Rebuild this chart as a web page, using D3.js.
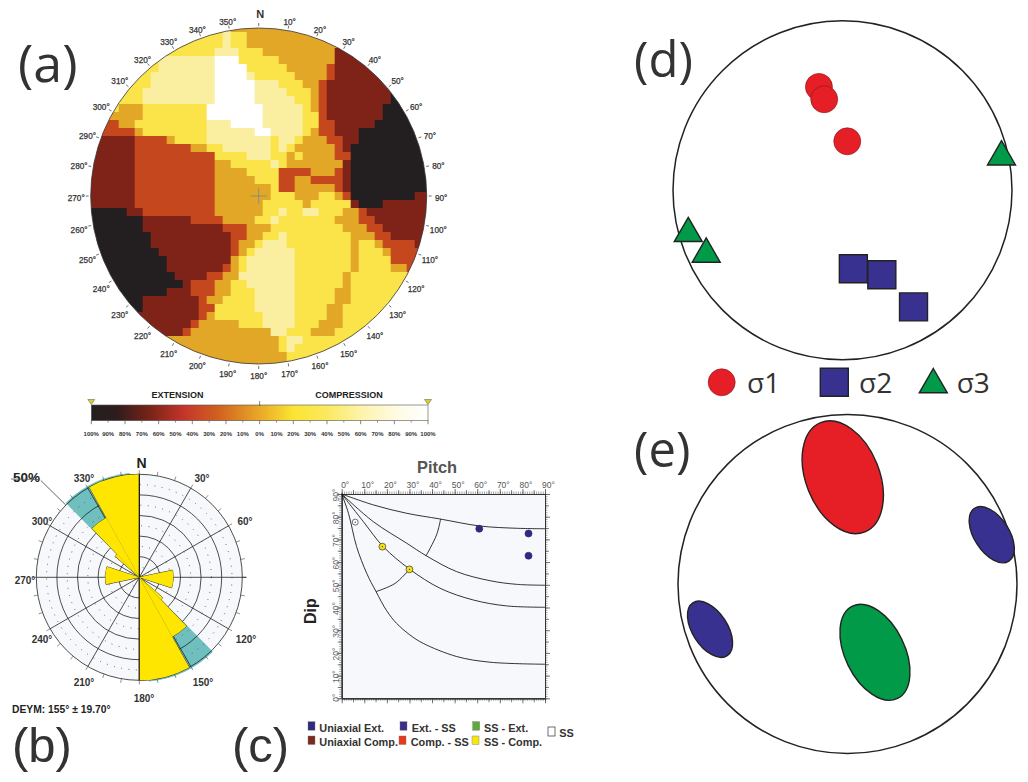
<!DOCTYPE html>
<html><head><meta charset="utf-8">
<script src="https://cdn.jsdelivr.net/npm/d3@7/dist/d3.min.js"></script>
<style>html,body{margin:0;padding:0;background:#fff}svg{display:block}text{font-family:"Liberation Sans",Arial,sans-serif}</style>
</head><body><svg id="c" width="1028" height="782"></svg>
<script>
// ---------- data ----------
// (a) strain-class raster: each row is a run list, letter + column where the run ends
const mapRows = [
"Y17 P18 A43","Y17 P18 Y20 A43","Y17 P18 Y20 A43","Y16 P19 Y22 A31 D43",
"Y9 P16 W19 Y24 A31 D43","Y9 P16 W20 Y25 A30 O31 D43","Y8 P16 W20 P21 Y26 A30 O31 D43",
"Y8 P16 W21 P24 Y27 A29 O30 D43","Y7 P16 W21 P25 Y28 A29 O30 D38 K43","Y7 P16 W21 P26 Y28 A29 O30 D38 K43",
"Y4 A7 Y15 W22 P27 Y28 A29 O30 D37 K43","A7 Y15 W22 P27 Y29 O30 D37 K43","O4 A6 Y15 P18 W22 P27 Y29 O31 D36 K43",
"O6 A7 Y15 P21 W23 P27 Y28 A29 O31 D34 K43","D6 O10 A11 Y15 P23 Y24 P26 Y27 A30 O32 D34 K43",
"D6 O13 A15 Y17 P23 Y24 P25 Y26 A31 O32 D33 K43","D6 O16 Y20 P23 Y25 A26 Y27 A31 O33 K43",
"D6 O16 A18 Y23 P24 Y25 A32 D33 K43","D6 O16 A20 Y24 O28 A31 O32 D33 K43","D6 O16 A21 Y24 O26 A28 O32 D33 K43",
"D6 O16 A23 Y24 O26 A31 O32 D33 K43","D6 O16 A23 Y26 A29 Y31 A32 O33 K41 D43","D6 O16 A22 Y27 A28 Y33 D34 K37 D43",
"K5 D7 O16 A22 Y24 P25 Y27 P29 Y32 A34 O35 D43","K7 D13 O17 A21 Y23 P24 Y31 A34 O36 D43","K7 D17 O20 A23 Y32 A35 O37 D43",
"K8 D18 O20 A22 Y24 P25 Y33 A36 O38 D43","K8 D18 O19 A21 Y22 P25 Y33 A34 Y36 A37 O41 D43",
"K9 D18 O19 A20 Y21 P26 Y33 A34 Y37 A38 O43","K10 D18 A19 Y20 P26 Y33 A34 Y38 O43",
"K10 D17 O18 A19 Y20 P26 Y33 A34 Y38 A40 O43","K11 D15 O17 A19 P26 Y32 A33 Y43","K12 D13 O16 A18 Y20 P26 Y32 A33 Y43",
"K10 D13 O16 A18 Y21 P26 Y31 A33 Y43","K7 D14 O15 A17 Y21 P26 Y31 A33 Y43","K7 D14 O16 Y21 P26 Y30 A32 Y43",
"D14 O15 A16 Y22 P26 Y30 A32 Y43","D13 O14 A19 Y22 P26 Y29 A32 Y43","D12 O13 A23 P25 Y28 A31 Y43",
"A24 Y25 P27 Y43","A24 Y25 P26 Y43","A25 Y43","A25 Y43"];
const classKeys = ["K","D","O","A","Y","P","W"];
const classColors = ["#231f20","#7f2318","#c4471d","#e3a728","#fbe44a","#faeea0","#ffffff"];
const barLabels = ["100%","90%","80%","70%","60%","50%","40%","30%","20%","10%","0%","10%","20%","30%","40%","50%","60%","70%","80%","90%","100%"];
const barStops = [-100,-85,-65,-45,-25,0,20,40,60,80,100];
const barColors = ["#231f20","#2e1c1c","#7a2318","#c4352a","#d0601f","#e9a828","#fbe432","#fbe95e","#fdf3a8","#fefbe0","#ffffff"];
// (b) rose diagram
const roseStart = [331,316,311,258,151,136,131,78];
const roseEnd   = [360,331,316,288,180,151,136,108];
const roseValue = [50,33,15.5,16.5,50,33,15,16.5];
const roseRings = [10,20,30,40,50];
const roseDots  = [5,15,25,35,45];
const roseLabels = [30,60,120,150,180,210,240,270,300,330];
const sectorStart = [135.3,315.3];
const sectorEnd   = [174.7,354.7];
// (c) pitch-dip
const curve1P=[0,14,28.8,43.5,61.2,77.5,90], curve1D=[90,85.2,81.5,79,75.9,74.9,74.7];
const curve2P=[0,14,28.8,37.6,50.9,65.7,77.5,90], curve2D=[90,77.8,68.3,62.7,55.8,51.8,50.2,49.8];
const curve3P=[0,9.6,18.4,30.2,43.5,58.3,73,90], curve3D=[90,77.8,66.8,56.8,48.5,43.3,40.7,40.1];
const curve4P=[0,3,6.6,11.1,15.2,19.9,24.3,30.2,36.1,50.9,65.7,90], curve4D=[90,81.5,66.8,55,47,38.6,33,27.9,24.2,18.4,15.9,15];
const arc1P=[43.8,42,37.3], arc1D=[79,72,62.7];
const arc2P=[30,23.6,15.2], arc2D=[56.8,50.6,47];
const ptPitch=[60.9,82.7,82.7,18,30,6];
const ptDip=[74.7,72.6,62.8,66.8,56.8,77.6];
const ptClass=["e","e","e","s","s","o"];
const legendNames=["Uniaxial Ext.","Uniaxial Comp.","Ext. - SS","Comp. - SS","SS - Ext.","SS - Comp."];
const legendColors=["#2e2a7e","#7a2a20","#3a2d8c","#e8391d","#5fa83a","#f6e50f"];
// (d) stress axes, unit-disc coordinates
const s1X=[-0.139,-0.108,0.028], s1Y=[0.610,0.537,0.289];
const s2X=[0.064,0.232,0.419], s2Y=[-0.463,-0.498,-0.688];
const s3X=[0.938,-0.910,-0.804], s3Y=[0.221,-0.231,-0.353];
// (e) confidence ellipses, unit-disc coordinates
const elX=[-0.028,0.851,-0.811,0.162], elY=[0.63,0.291,-0.267,-0.403];
const elA=[0.217,0.103,0.103,0.176], elB=[0.348,0.186,0.186,0.303];
const elRot=[-22,-33,-33,-26];
const elColor=["#e61f26","#39318f","#39318f","#009a49"];
const panelNames=["(a)","(b)","(c)","(d)","(e)"];

// ---------- drawing ----------
const svg=d3.select("#c");
const rad=d3.scaleLinear().domain([0,360]).range([0,2*Math.PI]);
const polar=(r,b)=>[r*Math.sin(rad(b)),-r*Math.cos(rad(b))];
const classColor=d3.scaleOrdinal(classKeys,classColors);
const defs=svg.append("defs");

// panel letters
const panelX=[18,12,232,634,634], panelY=[82,762,762,77,467], panelF=["Open Sans","Liberation Sans","Liberation Sans","Open Sans","Open Sans"];
svg.selectAll("text.pn").data(panelNames).join("text").attr("class","pn")
 .attr("x",(d,i)=>panelX[i]).attr("y",(d,i)=>panelY[i]).style("font-family",(d,i)=>`"${panelF[i]}"`)
 .attr("font-size",(d,i)=>i==0?52:49).attr("fill","#333").text(d=>d);

// ===== (a)
(function(){
 const cx=258.7,cy=196,R=168;
 const xB=d3.scaleBand(d3.range(43),[cx-172,cx+172]), yB=d3.scaleBand(d3.range(43),[cy-172,cy+172]);
 defs.append("clipPath").attr("id","mc").append("circle").attr("cx",cx).attr("cy",cy).attr("r",R);
 const cells=[];
 mapRows.forEach((row,j)=>{let s=0;row.split(" ").forEach(t=>{const e=+t.slice(1);cells.push({j,s,e,k:t[0]});s=e;});});
 svg.append("g").attr("clip-path","url(#mc)").selectAll("rect").data(cells).join("rect")
  .attr("x",d=>xB(d.s)).attr("y",d=>yB(d.j)).attr("width",d=>xB.step()*(d.e-d.s)+.3).attr("height",yB.step()+.3)
  .attr("fill",d=>classColor(d.k));
 svg.append("circle").attr("cx",cx).attr("cy",cy).attr("r",R).attr("fill","none").attr("stroke","#333").attr("stroke-width",.8);
 svg.append("path").attr("d",`M${cx-8},${cy}H${cx+8}M${cx},${cy-8}V${cy+8}`).attr("stroke","#6f8a93").attr("stroke-width",.8);
 const bs=d3.range(0,360,10);
 const lr=d=>177.5+5*Math.abs(Math.sin(rad(d)));
 const g=svg.append("g").attr("transform",`translate(${cx},${cy})`);
 g.selectAll("line").data(bs).join("line")
  .attr("x1",d=>polar(R+2,d)[0]).attr("y1",d=>polar(R+2,d)[1]).attr("x2",d=>polar(R+5,d)[0]).attr("y2",d=>polar(R+5,d)[1])
  .attr("stroke","#333").attr("stroke-width",.7);
 g.selectAll("text").data(bs).join("text")
  .attr("x",d=>d?polar(lr(d),d)[0]:1.5).attr("y",d=>d?polar(lr(d),d)[1]+5:-178)
  .attr("text-anchor","middle").attr("font-size",d=>d?8.2:11).attr("font-weight",d=>d?"normal":"bold").attr("fill","#333")
  .attr("stroke","#333").attr("stroke-width",d=>d?.25:0)
  .text(d=>d?d+"°":"N");
 // colour bar
 const x0=91.3,x1=428,yT=405,yB2=420.7;
 const bar=d3.scaleLinear().domain([-100,100]).range([x0,x1]);
 const gr=defs.append("linearGradient").attr("id","bg");
 gr.selectAll("stop").data(barStops).join("stop").attr("offset",d=>(d+100)/2+"%").attr("stop-color",(d,i)=>barColors[i]);
 svg.append("rect").attr("x",x0).attr("y",yT).attr("width",x1-x0).attr("height",yB2-yT).attr("fill","url(#bg)").attr("stroke","#555").attr("stroke-width",.6);
 const t=svg.append("g");
 t.selectAll("line.maj").data(d3.range(-100,101,20)).join("line").attr("class","maj")
  .attr("x1",d=>bar(d)).attr("x2",d=>bar(d)).attr("y1",yB2).attr("y2",yB2+3.5).attr("stroke","#333").attr("stroke-width",.6);
 t.selectAll("line.min").data(d3.range(-90,100,20)).join("line").attr("class","min")
  .attr("x1",d=>bar(d)).attr("x2",d=>bar(d)).attr("y1",yB2).attr("y2",yB2+2).attr("stroke","#333").attr("stroke-width",.5);
 t.append("line").attr("x1",bar(0)).attr("x2",bar(0)).attr("y1",yT-4).attr("y2",yT+1).attr("stroke","#333").attr("stroke-width",.6);
 t.selectAll("text").data(barLabels).join("text").attr("x",(d,i)=>bar(-100+10*i)).attr("y",435.5)
  .attr("text-anchor","middle").attr("font-size",6).attr("font-weight","bold").attr("fill","#333").text(d=>d);
 [-100,100].forEach(v=>svg.append("path").attr("d",`M${bar(v)-3.5},${yT-5.5}h7l-3.5,5z`).attr("fill","#d8d02a").attr("stroke","#555").attr("stroke-width",.5));
 [["EXTENSION",177.5],["COMPRESSION",349]].forEach(d=>svg.append("text").attr("x",d[1]).attr("y",398).attr("text-anchor","middle")
   .attr("font-size",9).attr("font-weight","bold").attr("fill","#222").text(d[0]));
})();

// ===== (b)
(function(){
 const cx=139.3,cy=577.3;
 const r=d3.scaleLinear().domain([0,50]).range([0,103]);
 const g=svg.append("g").attr("transform",`translate(${cx},${cy})`);
 g.append("circle").attr("r",r(50)).attr("fill","#f6f8fb");
 const arc=d3.arc();
 g.selectAll("path.sec").data(sectorStart).join("path").attr("class","sec")
  .attr("d",(d,i)=>arc({innerRadius:0,outerRadius:r(50.8),startAngle:rad(d),endAngle:rad(sectorEnd[i])})).attr("fill","#6fbfbf");
 g.selectAll("circle.dot").data(roseDots).join("circle").attr("class","dot").attr("r",d=>r(d)).attr("fill","none")
  .attr("stroke","#444").attr("stroke-width",.9).attr("stroke-dasharray","0.9 6.5");
 g.selectAll("circle.ring").data(roseRings).join("circle").attr("class","ring").attr("r",d=>r(d)).attr("fill","none").attr("stroke","#222").attr("stroke-width",.8);
 g.selectAll("line.sp").data(d3.range(0,360,30)).join("line").attr("class","sp")
  .attr("x2",d=>polar(r(50),d)[0]).attr("y2",d=>polar(r(50),d)[1]).attr("stroke","#222").attr("stroke-width",.8);
 g.selectAll("line.tk").data(d3.range(0,360,10)).join("line").attr("class","tk")
  .attr("x1",d=>polar(r(50),d)[0]).attr("y1",d=>polar(r(50),d)[1]).attr("x2",d=>polar(r(52),d)[0]).attr("y2",d=>polar(r(52),d)[1]).attr("stroke","#444").attr("stroke-width",.6);
 g.append("line").attr("x1",r(50)).attr("x2",r(52)).attr("stroke","#222").attr("stroke-width",.8);
 const wedge=(d,i)=>arc({innerRadius:0,outerRadius:r(roseValue[i]),startAngle:rad(d),endAngle:rad(roseEnd[i])});
 g.selectAll("path.wo").data(roseStart).join("path").attr("class","wo").attr("d",wedge).attr("fill","none").attr("stroke","#222").attr("stroke-width",1);
 g.selectAll("path.w").data(roseStart).join("path").attr("class","w").attr("d",wedge).attr("fill","#ffe600").attr("stroke","#ffe600").attr("stroke-width",.2);
 g.append("line").attr("y1",-r(50)).attr("y2",0).attr("stroke","#111").attr("stroke-width",1.2);
 g.append("line").attr("y1",0).attr("y2",r(50)).attr("stroke","#111").attr("stroke-width",.9);
 // 50% leader
 g.append("line").attr("x1",polar(r(50),314.5)[0]).attr("y1",polar(r(50),314.5)[1]).attr("x2",polar(r(67),314.5)[0]).attr("y2",polar(r(67),314.5)[1]).attr("stroke","#222").attr("stroke-width",.7);
 svg.append("text").attr("x",13).attr("y",482).attr("font-size",13.5).attr("font-weight","bold").attr("fill","#222").text("50%");
 svg.append("line").attr("x1",11).attr("x2",40).attr("y1",479).attr("y2",479.5).attr("stroke","#555").attr("stroke-width",.8);
 svg.append("text").attr("x",141.6).attr("y",468).attr("text-anchor","middle").attr("font-size",14).attr("font-weight","bold").attr("fill","#222").text("N");
 const lx=[202,245,246,203,144,84,42,25,42,84], ly=[478,521,639,682,698,682,639,580,521,478];
 svg.selectAll("text.rl").data(roseLabels).join("text").attr("class","rl")
  .attr("x",(d,i)=>lx[i]).attr("y",(d,i)=>ly[i]+3.5).attr("text-anchor","middle").attr("font-size",10).attr("font-weight","bold").attr("fill","#333").text(d=>d+"°");
 svg.append("text").attr("x",12).attr("y",713).attr("font-size",10.3).attr("font-weight","bold").attr("fill","#222").text("DEYM: 155° ± 19.70°");
})();

// ===== (c)
(function(){
 const x=d3.scaleLinear().domain([0,90]).range([341.7,545]);
 const y=d3.scaleLinear().domain([0,90]).range([698.3,494]);
 svg.append("rect").attr("x",x(0)).attr("y",y(90)).attr("width",x(90)-x(0)).attr("height",y(0)-y(90)).attr("fill","#f6f8fc");
 const ax=(gen,tx,ty,size,vals,w)=>{const g=svg.append("g").attr("transform",`translate(${tx},${ty})`)
   .call(gen.tickValues(vals).tickSize(size).tickSizeOuter(0).tickFormat(""));
   g.selectAll("line").attr("stroke","#333").attr("stroke-width",w);g.select(".domain").attr("stroke","#333");return g;};
 const minor=d3.range(0,91,1), major=d3.range(0,91,10), mid=d3.range(5,90,10);
 [[d3.axisTop(x),0,y(90)],[d3.axisBottom(x),0,y(0)],[d3.axisLeft(y),x(0),0],[d3.axisRight(y),x(90),0]].forEach(a=>{
  ax(a[0],a[1],a[2],2.5,minor,.45);
  ax(a[0],a[1],a[2],4,mid,.6);
  ax(a[0],a[1],a[2],5,major,.7);
 });
 svg.selectAll("text.px").data(major).join("text").attr("class","px").attr("x",d=>x(d)+3.5).attr("y",487.5)
  .attr("text-anchor","middle").attr("font-size",8.5).attr("fill","#555").text(d=>d+"°");
 svg.selectAll("text.dy").data(major).join("text").attr("class","dy")
  .attr("transform",d=>`translate(339,${y(d)+(d?7.5:3.5)}) rotate(-90)`).attr("font-size",8.5).attr("fill","#666").text(d=>d+"°");
 const line=d3.line().curve(d3.curveCatmullRom.alpha(.5)).x(d=>x(d[0])).y(d=>y(d[1]));
 [[curve1P,curve1D],[curve2P,curve2D],[curve3P,curve3D],[curve4P,curve4D],[arc1P,arc1D],[arc2P,arc2D]].forEach(c=>
  svg.append("path").attr("d",line(d3.zip(c[0],c[1]))).attr("fill","none").attr("stroke","#111").attr("stroke-width",.85));
 const pts=svg.append("g").selectAll("g").data(ptPitch).join("g").attr("transform",(d,i)=>`translate(${x(d)},${y(ptDip[i])})`);
 pts.append("circle").attr("r",(d,i)=>ptClass[i]=="e"?3.5:ptClass[i]=="s"?3.4:3)
  .attr("fill",(d,i)=>({e:"#2e2a7e",s:"#f6e50f",o:"#fff"})[ptClass[i]]).attr("stroke",(d,i)=>ptClass[i]=="e"?"#2e2a7e":"#333").attr("stroke-width",.7);
 pts.filter((d,i)=>ptClass[i]!="e").append("circle").attr("r",.7).attr("fill","#333");
 svg.append("text").attr("x",437).attr("y",472.7).attr("text-anchor","middle").attr("font-size",16.4).attr("font-weight","bold").attr("fill","#555").text("Pitch");
 svg.append("text").attr("transform","translate(316,624) rotate(-90)").attr("font-size",16).attr("font-weight","bold").attr("fill","#222").text("Dip");
 const sx=[308,308,400,399,472.7,472], sy=[721.7,736,721.7,736,721.7,736], tx=[319.3,319.3,411.7,410.7,484,484], ty=[732,746,732,746,732,746];
 const lg=svg.append("g");
 lg.selectAll("rect").data(legendNames).join("rect").attr("x",(d,i)=>sx[i]).attr("y",(d,i)=>sy[i]).attr("width",7).attr("height",8.5)
  .attr("fill",(d,i)=>legendColors[i]).attr("stroke","#777").attr("stroke-width",.4);
 lg.selectAll("text").data(legendNames).join("text").attr("x",(d,i)=>tx[i]).attr("y",(d,i)=>ty[i]).attr("font-size",10.9).attr("font-weight","bold").attr("fill","#333").text(d=>d);
 lg.append("rect").attr("x",548).attr("y",727).attr("width",7).attr("height",9).attr("fill","#fff").attr("stroke","#333").attr("stroke-width",.7);
 lg.append("text").attr("x",559.3).attr("y",737).attr("font-size",10.9).attr("font-weight","bold").attr("fill","#333").text("SS");
})();

// ===== (d)
const sym=(g,kind,px,py,fill)=>{
 if(kind==1) g.append("circle").attr("cx",px).attr("cy",py).attr("r",13.5).attr("fill",fill).attr("stroke","#7a1a1a").attr("stroke-width",.6);
 if(kind==2) g.append("path").attr("d",d3.symbol(d3.symbolSquare,784)()).attr("transform",`translate(${px},${py})`).attr("fill",fill).attr("stroke","#222").attr("stroke-width",1.4);
 if(kind==3) g.append("path").attr("d",d3.symbol(d3.symbolTriangle,340)()).attr("transform",`translate(${px},${py+4})`).attr("fill",fill).attr("stroke","#222").attr("stroke-width",1.4);
};
(function(){
 const R=169.5,cx=842.5,cy=190.3;
 const x=d3.scaleLinear().domain([-1,1]).range([cx-R,cx+R]), y=d3.scaleLinear().domain([-1,1]).range([cy+R,cy-R]);
 const g=svg.append("g");
 g.append("circle").attr("cx",cx).attr("cy",cy).attr("r",R).attr("fill","none").attr("stroke","#222").attr("stroke-width",1.5);
 s1X.forEach((v,i)=>sym(g,1,x(v),y(s1Y[i]),"#e61f26"));
 s2X.forEach((v,i)=>sym(g,2,x(v),y(s2Y[i]),"#39318f"));
 s3X.forEach((v,i)=>sym(g,3,x(v),y(s3Y[i]),"#009a49"));
 sym(g,1,721.7,382.3,"#e61f26");sym(g,2,834.3,382.3,"#39318f");sym(g,3,933.3,380.7,"#009a49");
 [["σ1",747],["σ2",859],["σ3",956.7]].forEach(d=>svg.append("text").attr("x",d[1]).attr("y",392.7).style("font-family",'"Open Sans"').attr("font-size",28).attr("fill","#333").text(d[0]));
})();

// ===== (e)
(function(){
 const R=169.5,cx=847.5,cy=584;
 const x=d3.scaleLinear().domain([-1,1]).range([cx-R,cx+R]), y=d3.scaleLinear().domain([-1,1]).range([cy+R,cy-R]);
 svg.append("circle").attr("cx",cx).attr("cy",cy).attr("r",R).attr("fill","none").attr("stroke","#222").attr("stroke-width",1.5);
 svg.append("g").selectAll("ellipse").data(elX).join("ellipse")
  .attr("rx",(d,i)=>x(elA[i])-x(0)).attr("ry",(d,i)=>x(elB[i])-x(0))
  .attr("transform",(d,i)=>`translate(${x(d)},${y(elY[i])}) rotate(${elRot[i]})`)
  .attr("fill",(d,i)=>elColor[i]).attr("stroke","#222").attr("stroke-width",1.4);
})();
</script></body></html>
